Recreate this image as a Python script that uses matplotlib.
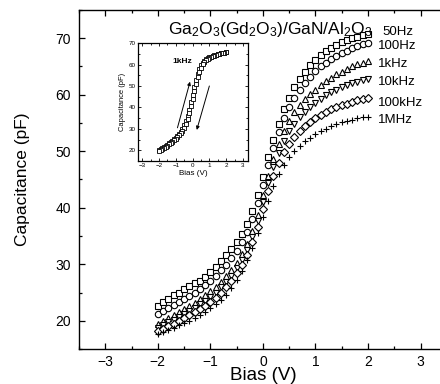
import numpy as np
import matplotlib
matplotlib.use("Agg")
import matplotlib.pyplot as plt

plt.rcParams['font.family'] = ['Liberation Sans', 'DejaVu Sans']
plt.rcParams['mathtext.fontset'] = 'custom'
plt.rcParams['mathtext.rm'] = 'Liberation Sans'
plt.rcParams['mathtext.it'] = 'Liberation Sans:italic'

# ---------------- data ----------------
bias = [round(-2.0 + 0.1 * i, 1) for i in range(41)]

c_50Hz = [22.7, 23.3, 23.9, 24.5, 25.0, 25.6, 26.1, 26.6, 27.1, 27.8,
          28.6, 29.6, 30.5, 31.6, 32.7, 33.9, 35.3, 37.1, 39.4, 42.2,
          45.4, 48.9, 52.0, 54.8, 57.4, 59.5, 61.3, 62.8, 64.1, 65.2,
          66.2, 67.0, 67.7, 68.3, 68.8, 69.3, 69.7, 70.0, 70.3, 70.6, 70.8]
c_100Hz = [21.2, 21.7, 22.3, 22.8, 23.3, 23.9, 24.4, 25.0, 25.6, 26.3,
           27.1, 28.0, 28.9, 29.9, 31.1, 32.4, 33.9, 35.7, 38.0, 40.9,
           44.1, 47.5, 50.6, 53.4, 55.8, 57.8, 59.5, 60.9, 62.1, 63.2,
           64.2, 65.0, 65.7, 66.3, 66.8, 67.3, 67.8, 68.2, 68.6, 68.9, 69.2]
c_1kHz = [19.5, 20.0, 20.5, 21.0, 21.5, 22.1, 22.6, 23.2, 23.8, 24.5,
          25.2, 26.0, 26.9, 27.9, 29.0, 30.3, 31.8, 33.6, 35.9, 38.8,
          42.2, 45.6, 48.6, 51.2, 53.5, 55.4, 56.9, 58.1, 59.2, 60.1,
          60.9, 61.7, 62.4, 63.0, 63.6, 64.1, 64.6, 65.0, 65.4, 65.7, 66.0]
c_10kHz = [18.8, 19.3, 19.7, 20.2, 20.7, 21.2, 21.7, 22.3, 22.9, 23.5,
           24.2, 25.0, 25.9, 26.9, 28.0, 29.3, 30.8, 32.6, 34.9, 37.7,
           41.0, 44.3, 47.2, 49.7, 51.8, 53.5, 54.9, 56.0, 57.0, 57.8,
           58.6, 59.3, 59.9, 60.4, 60.9, 61.3, 61.7, 62.0, 62.3, 62.6, 62.8]
c_100kHz = [18.2, 18.6, 19.0, 19.5, 20.0, 20.5, 21.0, 21.5, 22.1, 22.7,
            23.4, 24.1, 25.0, 26.0, 27.1, 28.4, 29.9, 31.7, 33.9, 36.6,
            39.7, 42.9, 45.6, 47.9, 49.8, 51.3, 52.5, 53.5, 54.4, 55.1,
            55.8, 56.4, 56.9, 57.4, 57.8, 58.1, 58.4, 58.7, 59.0, 59.2, 59.4]
c_1MHz = [17.7, 18.0, 18.4, 18.8, 19.2, 19.6, 20.0, 20.5, 21.0, 21.6,
          22.2, 22.9, 23.7, 24.6, 25.8, 27.2, 28.8, 30.7, 32.9, 35.5,
          38.3, 41.2, 43.8, 45.9, 47.6, 49.0, 50.1, 51.0, 51.8, 52.4,
          53.0, 53.5, 54.0, 54.4, 54.8, 55.1, 55.4, 55.6, 55.8, 56.0, 56.1]

freq_labels = ['50Hz', '100Hz', '1kHz', '10kHz', '100kHz', '1MHz']

# inset: 1 kHz hysteresis loop
inset_up = [20.0, 20.5, 21.0, 21.5, 22.0, 22.6, 23.2, 23.8, 24.4, 25.1,
            25.9, 26.7, 27.6, 28.7, 30.0, 31.6, 33.6, 36.0, 39.0, 42.4,
            46.0, 49.6, 52.9, 55.7, 57.9, 59.6, 60.8, 61.7, 62.4, 62.9,
            63.3, 63.7, 64.0, 64.3, 64.6, 64.8, 65.0, 65.2, 65.4, 65.6, 65.8]
inset_down = [19.8, 20.2, 20.7, 21.2, 21.7, 22.2, 22.8, 23.4, 24.0, 24.6,
              25.3, 26.1, 27.0, 28.0, 29.2, 30.6, 32.4, 34.6, 37.3, 40.5,
              44.0, 47.6, 51.0, 54.0, 56.6, 58.6, 60.1, 61.2, 62.0, 62.6,
              63.1, 63.5, 63.9, 64.2, 64.5, 64.8, 65.0, 65.2, 65.4, 65.6, 65.8]

main_xticks = [-3, -2, -1, 0, 1, 2, 3]
main_yticks = [20, 30, 40, 50, 60, 70]

# ---------------- figure ----------------
fig = plt.figure(figsize=(4.4, 3.84), dpi=100)
ax = fig.add_axes([0.1795, 0.0911, 0.836, 0.883])

series = [c_50Hz, c_100Hz, c_1kHz, c_10kHz, c_100kHz, c_1MHz]
markers = ['s', 'o', '^', 'v', 'D', '+']
msizes = [4.6, 4.6, 4.8, 4.8, 3.8, 5.0]
for vals, m, ms in zip(series, markers, msizes):
    ax.plot(bias, vals, linestyle='none', marker=m, markersize=ms,
            markerfacecolor='white' if m != '+' else 'black',
            markeredgecolor='black', markeredgewidth=0.8)

ax.set_xlim(-3.5, 3.5)
ax.set_ylim(15, 75)
ax.set_xticks(main_xticks)
ax.set_yticks(main_yticks)
ax.set_xticks(np.arange(-3.5, 3.6, 0.5), minor=True)
ax.set_yticks(np.arange(15, 76, 5), minor=True)
ax.tick_params(which='both', direction='in', top=True, right=True,
               labelsize=10, width=0.9)
ax.tick_params(axis='y', pad=6)
ax.tick_params(axis='x', pad=4)
ax.tick_params(which='major', length=4)
ax.tick_params(which='minor', length=2)
for s in ax.spines.values():
    s.set_linewidth(1.0)
ax.set_xlabel('Bias (V)', fontsize=13.5, labelpad=-1)
ax.set_ylabel('Capacitance (pF)', fontsize=12.5)
ax.yaxis.set_label_coords(-0.133, 0.5)

ax.text(0.14, 71.6, r'Ga$_2$O$_3$(Gd$_2$O$_3$)/GaN/Al$_2$O$_3$',
        fontsize=12.5, ha='center', va='center')

label_y = [71.1, 68.6, 65.4, 62.3, 58.6, 55.6]
label_x = [2.28, 2.18, 2.19, 2.18, 2.19, 2.19]
for lx, ly, t in zip(label_x, label_y, freq_labels):
    ax.text(lx, ly, t, fontsize=9.5, ha='left', va='center')

# ---------------- inset ----------------
axi = fig.add_axes([0.3136, 0.5807, 0.25, 0.307])
axi.plot(bias, inset_up, linestyle='none', marker='s', markersize=3.3,
         markerfacecolor='white', markeredgecolor='black', markeredgewidth=0.6)
axi.plot(bias[::-1], inset_down[::-1], linestyle='none', marker='s', markersize=3.3,
         markerfacecolor='white', markeredgecolor='black', markeredgewidth=0.6)
axi.set_xlim(-3.25, 3.3)
axi.set_ylim(15, 70)
axi.set_xticks(main_xticks)
axi.set_yticks(main_yticks)
axi.set_xticks(np.arange(-3.0, 3.1, 0.5), minor=True)
axi.set_yticks(np.arange(15, 71, 5), minor=True)
axi.tick_params(which='both', direction='in', top=True, right=True,
                labelsize=4.5, pad=1.5, width=0.6)
axi.tick_params(which='major', length=2.2)
axi.tick_params(which='minor', length=1.2)
for s in axi.spines.values():
    s.set_linewidth(0.9)
axi.set_xlabel('Bias (V)', fontsize=5.8, labelpad=1.5)
axi.set_ylabel('Capacitance (pF)', fontsize=5.4, labelpad=2)
axi.text(-0.6, 61.2, '1kHz', fontsize=6, ha='center', va='center',
         fontweight='bold')
axi.annotate('', xy=(-0.15, 52.0), xytext=(-0.9, 30.5),
             arrowprops=dict(arrowstyle='-|>', color='black', lw=0.7,
                             mutation_scale=5, shrinkA=0, shrinkB=0))
axi.annotate('', xy=(0.25, 29.5), xytext=(1.0, 50.0),
             arrowprops=dict(arrowstyle='-|>', color='black', lw=0.7,
                             mutation_scale=5, shrinkA=0, shrinkB=0))

fig.savefig('out.png', dpi=100)
